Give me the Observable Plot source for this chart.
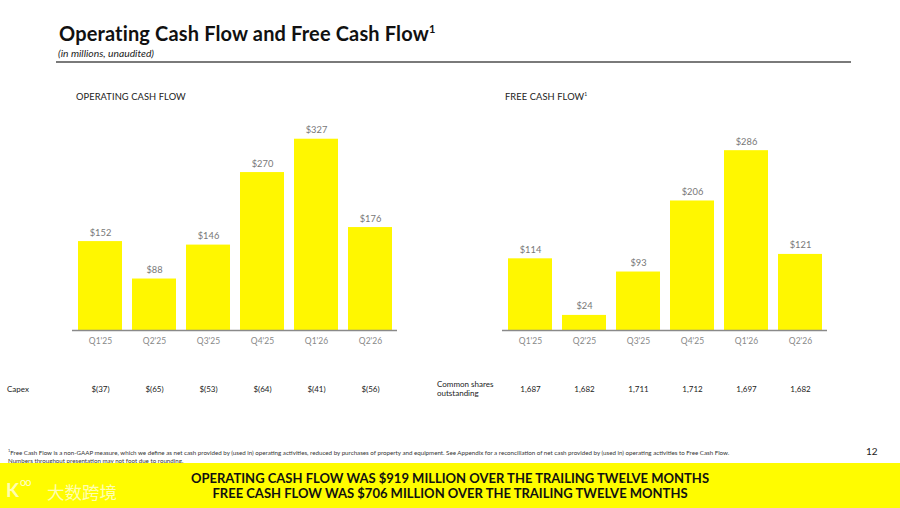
<!DOCTYPE html>
<html>
<head>
<meta charset="utf-8">
<script src="https://cdn.jsdelivr.net/npm/d3@7"></script>
<script src="https://cdn.jsdelivr.net/npm/@observablehq/plot@0.6"></script>
<style>
  html, body { margin:0; padding:0; background:#fff; }
  body { width:900px; height:508px; position:relative; overflow:hidden; font-family: Lato, "Noto Sans", sans-serif; color:#111; }
  .abs { position:absolute; white-space:nowrap; }
  #title { left:59px; top:21px; font-size:20px; font-weight:700; letter-spacing:0.15px; }
  #title sup { font-size:11px; vertical-align: 8px; line-height:0; }
  #subtitle { left:58px; top:47px; font-size:10.3px; font-style:italic; color:#222; }
  #rule { left:56px; top:61px; width:795px; height:2px; background:#7a7a7a; }
  .ctitle { top:91px; font-size:9.3px; color:#222; letter-spacing:0.1px; }
  .ctitle sup { font-size:5px; vertical-align:4px; line-height:0; }
  #chart1 { left:0px; top:100px; }
  #chart2 { left:450px; top:100px; }
  .rowlab { font-size:8px; color:#222; line-height:9px; }
  #foot { left:8px; top:447px; font-size:6.2px; color:#333; line-height:8px; }
  #page { left:866px; top:445px; font-size:10px; color:#222; }
  #banner { left:0; top:463px; width:900px; height:45px; background:#FFFC00; }
  #bannertext { left:0; top:471px; width:900px; text-align:center; font-weight:700; font-size:13px; line-height:15px; color:#111; }
  #logoK { left:6px; top:478px; font-size:19px; font-weight:700; color:rgba(255,255,255,0.7); }
  #logoO { left:20px; top:475px; font-size:11px; font-weight:400; color:rgba(255,255,255,0.8); letter-spacing:-1px; }
  #logo { left:47px; top:479px; font-size:17.5px; color:rgba(255,255,255,0.7); font-family:"Noto Sans CJK SC", sans-serif; }
</style>
</head>
<body>
<div class="abs" id="title">Operating Cash Flow and Free Cash Flow<sup>1</sup></div>
<div class="abs" id="subtitle">(in millions, unaudited)</div>
<div class="abs" id="rule"></div>
<div class="abs ctitle" style="left:76px">OPERATING CASH FLOW</div>
<div class="abs ctitle" style="left:505px">FREE CASH FLOW<sup>1</sup></div>
<div class="abs" id="chart1"></div>
<div class="abs" id="chart2"></div>
<div class="abs rowlab" style="left:7px; top:385px;">Capex</div>
<div class="abs rowlab" style="left:437px; top:380px;">Common shares<br>outstanding</div>
<div class="abs" id="foot"><sup style="font-size:4px">1</sup>Free Cash Flow is a non-GAAP measure, which we define as net cash provided by (used in) operating activities, reduced by purchases of property and equipment. See Appendix for a reconciliation of net cash provided by (used in) operating activities to Free Cash Flow.<br>Numbers throughout presentation may not foot due to rounding.</div>
<div class="abs" id="page">12</div>
<div class="abs" id="banner"></div>
<div class="abs" id="bannertext">OPERATING CASH FLOW WAS $919 MILLION OVER THE TRAILING TWELVE MONTHS<br>FREE CASH FLOW WAS $706 MILLION OVER THE TRAILING TWELVE MONTHS</div>
<div class="abs" id="logoK">K</div>
<div class="abs" id="logoO">oo</div>
<div class="abs" id="logo">大数跨境</div>
<script>
const quarters = ["Q1'25", "Q2'25", "Q3'25", "Q4'25", "Q1'26", "Q2'26"];
const operatingCashFlow = [152, 88, 146, 270, 327, 176];
const freeCashFlow = [114, 24, 93, 206, 286, 121];
const capex = ["$(37)", "$(65)", "$(53)", "$(64)", "$(41)", "$(56)"];
const sharesOutstanding = ["1,687", "1,682", "1,711", "1,712", "1,697", "1,682"];

const yellow = "#FFF700";
const font = "Lato, 'Noto Sans', sans-serif";

function chart(values, rowValues, yMax, marginLeft, marginRight) {
  const data = quarters.map((q, i) => ({q, v: values[i], r: rowValues[i]}));
  return Plot.plot({
    width: 450,
    height: 300,
    marginTop: 20,
    marginBottom: 70,
    marginLeft, marginRight,
    style: {fontFamily: font, background: "transparent", overflow: "visible"},
    x: {domain: quarters, paddingInner: 0.19, paddingOuter: 0.09, label: null},
    y: {domain: [0, yMax], axis: null},
    marks: [
      Plot.barY(data, {x: "q", y: "v", fill: yellow}),
      Plot.ruleY([0], {stroke: "#8a8a8a", strokeWidth: 1.5}),
      Plot.text(data, {x: "q", y: "v", text: d => "$" + d.v, dy: -6, lineAnchor: "bottom", fill: "#777", fontSize: 9.3}),
      Plot.axisX({tickSize: 0, tickPadding: 7, fontSize: 8.5, color: "#888", label: null}),
      Plot.text(data, {x: "q", text: "r", frameAnchor: "bottom", dy: 61, fill: "#222", fontSize: 8})
    ]
  });
}

document.getElementById("chart1").append(chart(operatingCashFlow, capex, 359, 72, 53));
document.getElementById("chart2").append(chart(freeCashFlow, sharesOutstanding, 334, 52, 73));
</script>
</body>
</html>
